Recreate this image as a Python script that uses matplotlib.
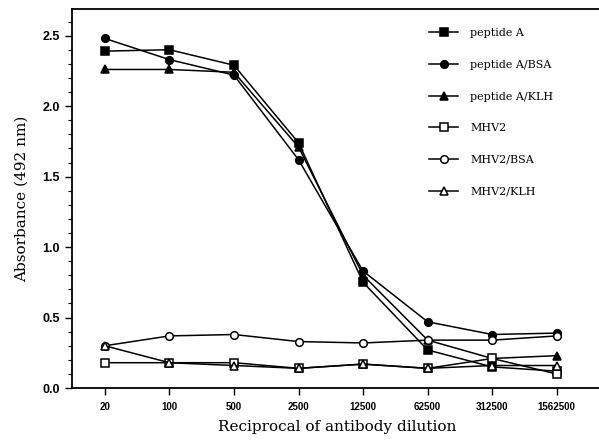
import numpy
import matplotlib
matplotlib.use("Agg")
import matplotlib.pyplot as pyplot
import matplotlib.ticker as ticker

dilutions = ["20", "100", "500", "2500", "12500", "62500", "312500", "1562500"]

peptideA    = [2.39, 2.40, 2.29, 1.74, 0.75, 0.27, 0.15, 0.12]
peptideABSA = [2.48, 2.33, 2.22, 1.62, 0.83, 0.47, 0.38, 0.39]
peptideAKLH = [2.26, 2.26, 2.24, 1.71, 0.80, 0.34, 0.21, 0.23]
mhv2        = [0.18, 0.18, 0.18, 0.14, 0.17, 0.14, 0.21, 0.10]
mhv2BSA     = [0.30, 0.37, 0.38, 0.33, 0.32, 0.34, 0.34, 0.37]
mhv2KLH     = [0.30, 0.18, 0.16, 0.14, 0.17, 0.14, 0.16, 0.16]

series = [
    ("peptide A",     peptideA,    "s", "black"),
    ("peptide A/BSA", peptideABSA, "o", "black"),
    ("peptide A/KLH", peptideAKLH, "^", "black"),
    ("MHV2",          mhv2,        "s", "white"),
    ("MHV2/BSA",      mhv2BSA,     "o", "white"),
    ("MHV2/KLH",      mhv2KLH,     "^", "white"),
]

serifFont = "DejaVu Serif"
sansFont = "Liberation Sans"

figure = pyplot.figure( figsize=(5.99, 4.42), dpi=100 )
axes = figure.add_axes( [0.120, 0.122, 0.885, 0.858] )

xs = numpy.arange( len(dilutions) )
for label, values, marker, face in series:
    axes.plot(
        xs, values,
        color="black", linewidth=1.1,
        marker=marker, markersize=5.5 if marker != "^" else 6,
        markerfacecolor=face, markeredgecolor="black", markeredgewidth=1.1,
        label=label
    )

axes.set_xlim( -0.51, 7.7 )
axes.set_ylim( 0.0, 2.69 )

axes.set_xticks( xs )
axes.set_xticklabels( dilutions, fontname=sansFont, fontsize=7, fontweight="bold" )
axes.set_yticks( [0.0, 0.5, 1.0, 1.5, 2.0, 2.5] )
axes.set_yticklabels( ["0.0", "0.5", "1.0", "1.5", "2.0", "2.5"], fontname=sansFont, fontsize=9, fontweight="bold" )
axes.yaxis.set_minor_locator( ticker.MultipleLocator(0.1) )

axes.tick_params( axis="both", which="major", direction="out", length=5, width=1.0, color="black" )
axes.tick_params( axis="y", which="minor", direction="out", length=3, width=0.8 )
axes.tick_params( axis="x", pad=5 )

axes.spines["right"].set_visible( False )
for side in ["left", "bottom", "top"]:
    axes.spines[side].set_linewidth( 1.3 )

axes.set_xlabel( "Reciprocal of antibody dilution", fontname=serifFont, fontsize=11, labelpad=6 )
axes.set_ylabel( "Absorbance (492 nm)", fontname=serifFont, fontsize=11, labelpad=10 )

legend = axes.legend(
    loc="upper left", bbox_to_anchor=(0.655, 0.975),
    frameon=False, prop={"family": serifFont, "size": 8},
    labelspacing=1.95, handlelength=2.6, handletextpad=1.1
)

figure.savefig( "out.png", dpi=100 )
